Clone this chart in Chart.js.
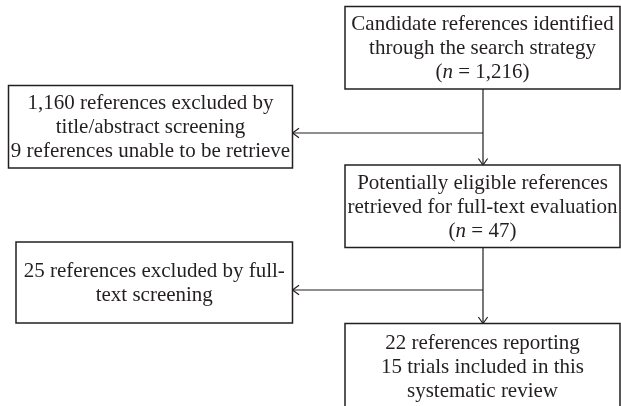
<!DOCTYPE html>
<html>
<head>
<meta charset="utf-8">
<script src="https://cdn.jsdelivr.net/npm/chart.js@4.4.1/dist/chart.umd.min.js"></script>
<style>
  html, body { margin: 0; padding: 0; background: #fff; }
  #flow { display: block; }
</style>
</head>
<body>
<canvas id="flow" width="621" height="406"></canvas>
<script>
// box texts (segments between * are italic)
const identified = ['Candidate references identified', 'through the search strategy', '(*n* = 1,216)'];
const excludedTitle = ['1,160 references excluded by', 'title/abstract screening', '9 references unable to be retrieve'];
const eligible = ['Potentially eligible references', 'retrieved for full-text evaluation', '(*n* = 47)'];
const excludedFull = ['25 references excluded by full-', 'text screening'];
const included = ['22 references reporting', '15 trials included in this', 'systematic review'];

// layout in picture coordinates (x0, y0, x1, y1)
const boxes = [
  { lines: identified, rect: [345, 6.5, 620, 89] },
  { lines: excludedTitle, rect: [8.5, 85.5, 292.5, 168] },
  { lines: eligible, rect: [345, 165, 620, 247.5] },
  { lines: excludedFull, rect: [16, 242, 292.5, 323] },
  { lines: included, rect: [345, 323.5, 620, 409] }
];
// connectors: from -> to, arrow at the end
const links = [
  [[483, 89], [483, 165]],
  [[483, 133], [292.5, 133]],
  [[483, 247.5], [483, 323.5]],
  [[483, 290], [292.5, 290]]
];

const ink = '#231f20';
const fontFamily = '"Liberation Serif", "DejaVu Serif", serif';
const fontSize = 21;
const lineGap = 23.8;

const flowPlugin = {
  id: 'flow',
  afterDatasetsDraw(chart) {
    const ctx = chart.ctx;
    const xs = chart.scales.x, ys = chart.scales.y;
    const px = v => xs.getPixelForValue(v);
    const py = v => ys.getPixelForValue(v);
    ctx.save();
    ctx.strokeStyle = ink;
    ctx.fillStyle = ink;

    // arrow heads
    ctx.lineWidth = 1.2;
    links.forEach(([a, b]) => {
      const x1 = px(b[0]), y1 = py(b[1]);
      const ang = Math.atan2(y1 - py(a[1]), x1 - px(a[0]));
      const len = 8, spread = 0.62;
      ctx.beginPath();
      ctx.moveTo(x1 - len * Math.cos(ang - spread), y1 - len * Math.sin(ang - spread));
      ctx.lineTo(x1, y1);
      ctx.lineTo(x1 - len * Math.cos(ang + spread), y1 - len * Math.sin(ang + spread));
      ctx.stroke();
    });

    // boxes
    boxes.forEach(b => {
      const [x0, y0, x1, y1] = b.rect;
      const l = px(x0), t = py(y0), r = px(x1), btm = py(y1);
      ctx.fillStyle = '#fff';
      ctx.fillRect(l, t, r - l, btm - t);
      ctx.lineWidth = 1.5;
      ctx.strokeStyle = ink;
      ctx.strokeRect(l, t, r - l, btm - t);

      ctx.fillStyle = ink;
      ctx.textBaseline = 'middle';
      ctx.textAlign = 'left';
      const cx = (l + r) / 2, cy = (t + btm) / 2;
      const n = b.lines.length;
      b.lines.forEach((line, i) => {
        const parts = line.split('*').map((s, k) => ({ s, italic: k % 2 === 1 }));
        let w = 0;
        parts.forEach(p => {
          ctx.font = (p.italic ? 'italic ' : '') + fontSize + 'px ' + fontFamily;
          p.w = ctx.measureText(p.s).width;
          w += p.w;
        });
        let x = cx - w / 2;
        const y = cy + (i - (n - 1) / 2) * lineGap + 1;
        parts.forEach(p => {
          ctx.font = (p.italic ? 'italic ' : '') + fontSize + 'px ' + fontFamily;
          ctx.fillText(p.s, x, y);
          x += p.w;
        });
      });
    });
    ctx.restore();
  }
};

new Chart(document.getElementById('flow'), {
  type: 'scatter',
  data: {
    datasets: links.map(([a, b]) => ({
      data: [{ x: a[0], y: a[1] }, { x: b[0], y: b[1] }],
      showLine: true,
      borderColor: ink,
      borderWidth: 1.2,
      pointRadius: 0,
      fill: false
    }))
  },
  options: {
    responsive: false,
    animation: false,
    layout: { padding: 0 },
    plugins: { legend: { display: false }, tooltip: { enabled: false } },
    scales: {
      x: { type: 'linear', min: 0, max: 621, display: false },
      y: { type: 'linear', min: 0, max: 406, reverse: true, display: false }
    }
  },
  plugins: [flowPlugin]
});
</script>
</body>
</html>
